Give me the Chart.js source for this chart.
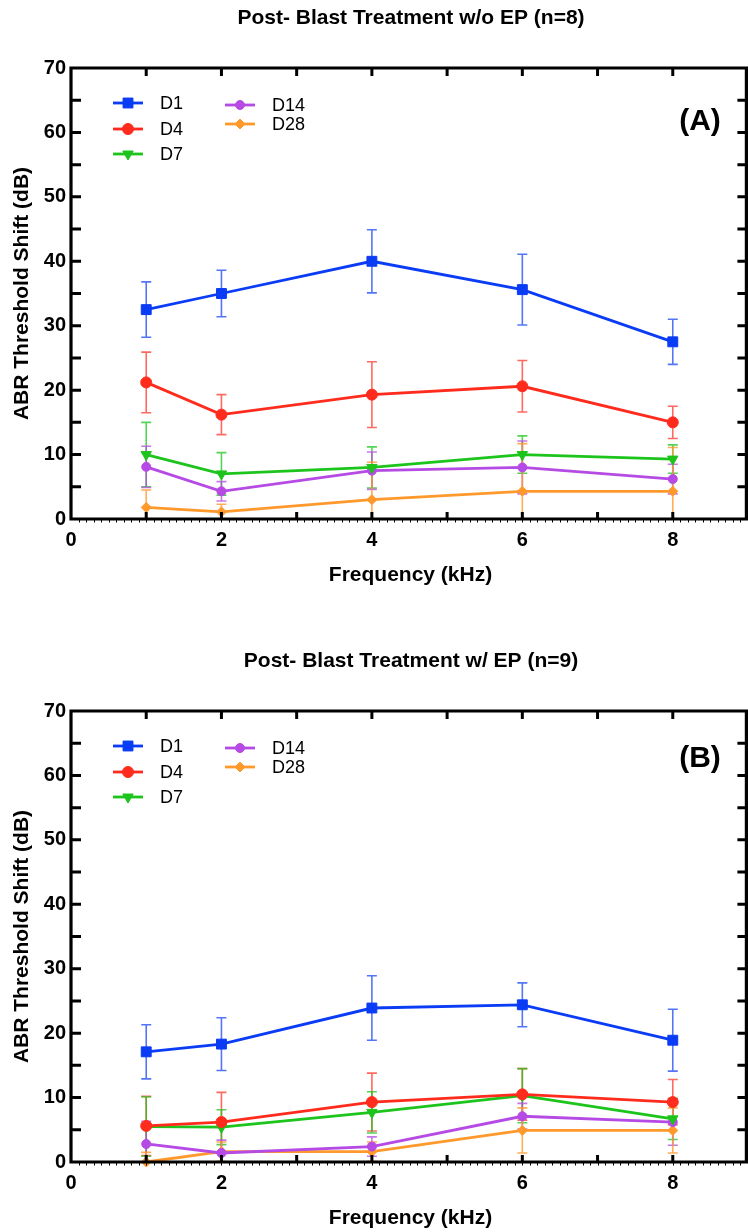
<!DOCTYPE html>
<html><head><meta charset="utf-8">
<script src="https://cdn.jsdelivr.net/npm/chart.js@4.4.1/dist/chart.umd.min.js"></script>
<style>
html,body{margin:0;padding:0;background:#fff;width:748px;height:1232px;overflow:hidden}
canvas{position:absolute;left:0}
</style></head><body>
<canvas id="cA" width="748" height="616" style="top:0px"></canvas>
<canvas id="cB" width="748" height="589" style="top:643px"></canvas>
<script>
// ---------- data ----------
const frequencies = [1, 2, 4, 6, 8];
const seriesNames = ['D1', 'D4', 'D7', 'D14', 'D28'];
const xTickValues = [0, 2, 4, 6, 8];
const yTickValues = [0, 10, 20, 30, 40, 50, 60, 70];

// Panel A: w/o EP (n=8)
const A_D1  = [32.5, 35.0, 40.0, 35.6, 27.5];
const A_D4  = [21.2, 16.2, 19.3, 20.6, 15.0];
const A_D7  = [10.0, 7.0, 8.0, 10.0, 9.3];
const A_D14 = [8.1, 4.3, 7.5, 8.0, 6.2];
const A_D28 = [1.8, 1.1, 3.0, 4.3, 4.3];
const A_D1_err  = [4.3, 3.6, 4.9, 5.5, 3.5];
const A_D4_err  = [4.7, 3.1, 5.1, 4.0, 2.5];
const A_D7_err  = [5.0, 3.3, 3.2, 2.9, 2.2];
const A_D14_err = [3.2, 1.5, 2.9, 4.1, 2.3];
const A_D28_err = [2.7, 1.2, 5.8, 7.4, 6.8];

// Panel B: w/ EP (n=9)
const B_D1  = [17.1, 18.3, 23.9, 24.4, 18.9];
const B_D4  = [5.6, 6.2, 9.3, 10.5, 9.3];
const B_D7  = [5.5, 5.4, 7.7, 10.3, 6.7];
const B_D14 = [2.8, 1.4, 2.4, 7.1, 6.2];
const B_D28 = [0.0, 1.6, 1.6, 4.9, 4.9];
const B_D1_err  = [4.2, 4.1, 5.0, 3.4, 4.8];
const B_D4_err  = [4.6, 4.6, 4.5, 4.0, 3.5];
const B_D7_err  = [4.6, 2.7, 3.2, 4.2, 3.2];
const B_D14_err = [3.5, 2.0, 1.5, 2.0, 3.6];
const B_D28_err = [1.5, 1.5, 1.5, 3.5, 3.5];

const titleA = 'Post- Blast Treatment w/o EP (n=8)';
const titleB = 'Post- Blast Treatment w/ EP (n=9)';
const xTitle = 'Frequency (kHz)';
const yTitle = 'ABR Threshold Shift (dB)';

// ---------- styles ----------
const FONT = "'Liberation Sans', Arial, Helvetica, sans-serif";
const colors = ['#0a3cf5', '#ff2b1c', '#1cc41c', '#b64ae4', '#ff992c'];
const errColors = ['rgba(10,60,245,0.7)', 'rgba(255,43,28,0.7)', 'rgba(28,196,28,0.75)', 'rgba(182,74,228,0.75)', 'rgba(255,153,44,0.8)'];
const pStyles = ['rect', 'circle', 'triangle', 'circle', 'rectRot'];
const pRot = [0, 0, 180, 0, 0];
const pRad = [7, 5.5, 6, 4.5, 5];

function makeDatasets(vals, errs) {
  return vals.map((v, i) => ({
    label: seriesNames[i],
    data: frequencies.map((f, k) => ({x: f, y: v[k]})),
    errors: errs[i],
    errColor: errColors[i],
    borderColor: colors[i],
    backgroundColor: colors[i],
    pointBackgroundColor: colors[i],
    pointBorderColor: colors[i],
    pointStyle: pStyles[i],
    rotation: pRot[i],
    pointRotation: pRot[i],
    pointRadius: pRad[i],
    pointBorderWidth: 1,
    borderWidth: 2.8,
    tension: 0,
    clip: false
  }));
}

const decor = {
  id: 'decor',
  beforeDatasetsDraw(chart) {
    const {ctx, chartArea: ca} = chart;
    const xs = chart.scales.x, ys = chart.scales.y;
    ctx.save();
    ctx.beginPath();
    ctx.rect(ca.left, 0, ca.right - ca.left, ca.bottom);
    ctx.clip();
    chart.data.datasets.forEach(ds => {
      ctx.strokeStyle = ds.errColor;
      ctx.lineWidth = 1.6;
      ds.data.forEach((p, k) => {
        const e = ds.errors[k];
        const px = xs.getPixelForValue(p.x);
        const yt = ys.getPixelForValue(p.y + e);
        const yb = ys.getPixelForValue(p.y - e);
        ctx.beginPath();
        ctx.moveTo(px, yt); ctx.lineTo(px, yb);
        ctx.moveTo(px - 5, yt); ctx.lineTo(px + 5, yt);
        ctx.moveTo(px - 5, yb); ctx.lineTo(px + 5, yb);
        ctx.stroke();
      });
    });
    ctx.restore();
  },
  afterDraw(chart, args, opts) {
    const {ctx, chartArea: ca} = chart;
    const xs = chart.scales.x, ys = chart.scales.y;
    ctx.save();
    ctx.strokeStyle = '#000';
    ctx.fillStyle = '#000';
    // frame
    ctx.lineWidth = 3.2;
    const R = ca.right - 1.6;
    ctx.beginPath();
    ctx.moveTo(ca.left, ca.top); ctx.lineTo(R, ca.top); ctx.lineTo(R, ca.bottom);
    ctx.lineTo(ca.left, ca.bottom); ctx.closePath();
    ctx.stroke();
    // y ticks every 5 on left and right
    ctx.lineWidth = 3;
    for (let v = 5; v < 70; v += 5) {
      const py = ys.getPixelForValue(v);
      ctx.beginPath();
      ctx.moveTo(ca.left, py); ctx.lineTo(ca.left + 10, py);
      ctx.moveTo(R, py); ctx.lineTo(R - 9, py);
      ctx.stroke();
    }
    // x ticks every 1 on top and bottom
    for (let v = 1; v <= 8; v++) {
      const px = xs.getPixelForValue(v);
      ctx.beginPath();
      ctx.moveTo(px, ca.top); ctx.lineTo(px, ca.top + 8);
      ctx.moveTo(px, ca.bottom); ctx.lineTo(px, ca.bottom - 7);
      ctx.stroke();
    }
    // fine minor ticks under x axis
    ctx.lineWidth = 1;
    for (let v = 0.1; v < 9; v += 0.1) {
      const px = Math.round(xs.getPixelForValue(v)) + 0.5;
      ctx.beginPath();
      ctx.moveTo(px, ca.bottom); ctx.lineTo(px, ca.bottom + 3.5);
      ctx.stroke();
    }
    // titles
    ctx.textAlign = 'center';
    ctx.textBaseline = 'middle';
    ctx.font = 'bold 21px ' + FONT;
    ctx.fillText(opts.title, 411, 18);
    ctx.font = 'bold 21px ' + FONT;
    ctx.fillText(xTitle, 410.5, ca.bottom + 56);
    ctx.save();
    ctx.translate(22, (ca.top + ca.bottom) / 2);
    ctx.rotate(-Math.PI / 2);
    ctx.fillText(yTitle, 0, 0);
    ctx.restore();
    ctx.font = 'bold 30px ' + FONT;
    ctx.fillText(opts.panel, 700, opts.panelY);
    // legend
    const rows0 = [103, 129, 154], rows1 = [105, 124];
    chart.data.datasets.forEach((ds, j) => {
      const col = j < 3 ? 0 : 1;
      const y = col === 0 ? rows0[j] : rows1[j - 3];
      const x0 = col === 0 ? 113 : 225;
      ctx.strokeStyle = ds.borderColor;
      ctx.lineWidth = 2.8;
      ctx.beginPath();
      ctx.moveTo(x0, y); ctx.lineTo(x0 + 30, y);
      ctx.stroke();
      ctx.fillStyle = ds.pointBackgroundColor;
      ctx.strokeStyle = ds.pointBorderColor;
      ctx.lineWidth = 1;
      Chart.helpers.drawPoint(ctx, {pointStyle: ds.pointStyle, rotation: ds.pointRotation, radius: ds.pointRadius, borderWidth: 1}, x0 + 15, y);
      ctx.fillStyle = '#000';
      ctx.textAlign = 'left';
      ctx.font = '18px ' + FONT;
      ctx.fillText(ds.label, x0 + 47, y + 1);
    });
    ctx.restore();
  }
};

function makeChart(id, vals, errs, title, panel, panelY) {
  const canvas = document.getElementById(id);
  const H = canvas.height;
  return new Chart(canvas, {
    type: 'line',
    data: {datasets: makeDatasets(vals, errs)},
    options: {
      responsive: false,
      animation: false,
      devicePixelRatio: 1,
      layout: {autoPadding: false, padding: {top: 68, left: 0, right: 0, bottom: 0}},
      plugins: {
        legend: {display: false},
        tooltip: {enabled: false},
        title: {display: false},
        decor: {title: title, panel: panel, panelY: panelY}
      },
      scales: {
        x: {
          type: 'linear', min: 0, max: 9,
          grid: {display: false, drawTicks: false},
          border: {display: false},
          ticks: {color: '#000', font: {family: FONT, size: 20, weight: 'bold'}, padding: 9, maxRotation: 0, autoSkip: false},
          afterBuildTicks: s => { s.ticks = xTickValues.map(v => ({value: v})); },
          afterFit: s => { s.height = H - 519; s.paddingRight = 0; s.paddingLeft = 0; }
        },
        y: {
          type: 'linear', min: 0, max: 70,
          grid: {display: false, drawTicks: false},
          border: {display: false},
          ticks: {color: '#000', font: {family: FONT, size: 20, weight: 'bold'}, padding: 5, autoSkip: false},
          afterBuildTicks: s => { s.ticks = yTickValues.map(v => ({value: v})); },
          afterFit: s => { s.width = 71; s.paddingTop = 0; s.paddingBottom = 0; }
        }
      }
    },
    plugins: [decor]
  });
}

makeChart('cA',
  [A_D1, A_D4, A_D7, A_D14, A_D28],
  [A_D1_err, A_D4_err, A_D7_err, A_D14_err, A_D28_err],
  titleA, '(A)', 122);
makeChart('cB',
  [B_D1, B_D4, B_D7, B_D14, B_D28],
  [B_D1_err, B_D4_err, B_D7_err, B_D14_err, B_D28_err],
  titleB, '(B)', 116);
</script>
</body></html>
